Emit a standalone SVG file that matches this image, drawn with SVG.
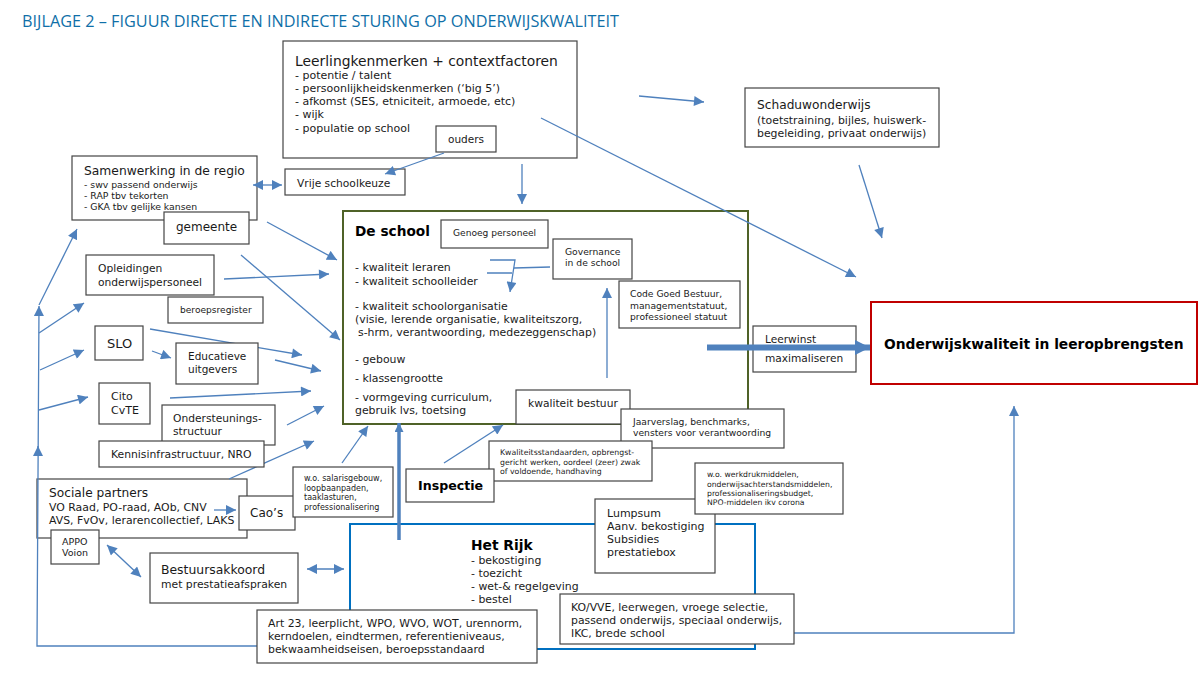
<svg xmlns="http://www.w3.org/2000/svg" width="1200" height="677" viewBox="0 0 1200 677">
<style>
text{font-family:"DejaVu Sans",Verdana,sans-serif;fill:#1a1a1a}
.b{fill:#fff;stroke:#444;stroke-width:1.2}
.c{fill:none;stroke:#4f81bd;stroke-width:1.3}
.bd{font-weight:bold;fill:#000}
</style>
<defs>
<marker id="a" viewBox="0 0 10 10" refX="10" refY="5" markerWidth="11" markerHeight="10" markerUnits="userSpaceOnUse" orient="auto-start-reverse"><path d="M0 0L10 5L0 10z" fill="#4f81bd"/></marker>
<marker id="t" viewBox="0 0 10 10" refX="10" refY="5" markerWidth="15" markerHeight="15" markerUnits="userSpaceOnUse" orient="auto"><path d="M0 0L10 5L0 10z" fill="#4f81bd"/></marker>
<marker id="v" viewBox="0 0 10 10" refX="10" refY="5" markerWidth="10" markerHeight="9" markerUnits="userSpaceOnUse" orient="auto"><path d="M0 0L10 5L0 10z" fill="#4f81bd"/></marker>
</defs>
<rect width="1200" height="677" fill="#fff"/>
<text x="22" y="27" textLength="597" lengthAdjust="spacingAndGlyphs" style="font-family:'Open Sans',sans-serif;font-size:16.300px;fill:#0f6fa8">BIJLAGE 2 – FIGUUR DIRECTE EN INDIRECTE STURING OP ONDERWIJSKWALITEIT</text>

<g id="school" font-size="10.900"><rect x="343" y="211" width="405" height="213" fill="#fff" stroke="#4f6228" stroke-width="2"/>
<text class="bd" font-size="13.700" x="355" y="236">De school</text>
<text x="355" y="271">- kwaliteit leraren</text>
<text x="355" y="285">- kwaliteit schoolleider</text>
<text x="355" y="310">- kwaliteit schoolorganisatie</text>
<text x="355" y="323">(visie, lerende organisatie, kwaliteitszorg,</text>
<text x="358" y="336">s-hrm, verantwoording, medezeggenschap)</text>
<text x="355" y="363">- gebouw</text>
<text x="355" y="382">- klassengrootte</text>
<text x="355" y="401">- vormgeving curriculum,</text>
<text x="355" y="414">gebruik lvs, toetsing</text></g>
<g id="rijk" font-size="10.900"><rect x="350" y="524" width="405" height="125" fill="#fff" stroke="#0070c0" stroke-width="2"/>
<text class="bd" font-size="13.800" x="471" y="550">Het Rijk</text>
<text x="471" y="564">- bekostiging</text>
<text x="471" y="577">- toezicht</text>
<text x="471" y="590">- wet-&amp; regelgeving</text>
<text x="471" y="603">- bestel</text></g>
<g id="leerling" font-size="11"><rect class="b" x="283" y="41" width="294" height="117"/>
<text font-size="13.850" x="295" y="66">Leerlingkenmerken + contextfactoren</text>
<text x="295" y="79">- potentie / talent</text>
<text x="295" y="92">- persoonlijkheidskenmerken (‘big 5’)</text>
<text x="295" y="105">- afkomst (SES, etniciteit, armoede, etc)</text>
<text x="295" y="118">- wijk</text>
<text x="295" y="132">- populatie op school</text></g>
<g id="ouders"><rect class="b" x="436" y="126" width="60" height="26"/><text font-size="10.500" x="448" y="143">ouders</text></g>
<g id="vrije"><rect class="b" x="285" y="169" width="120" height="26"/><text font-size="10.700" x="297" y="187">Vrije schoolkeuze</text></g>
<g id="samenwerking" font-size="9.300"><rect class="b" x="72" y="156" width="185" height="64"/>
<text font-size="12.300" x="84" y="175">Samenwerking in de regio</text>
<text x="84" y="188">- swv passend onderwijs</text>
<text x="84" y="199">- RAP tbv tekorten</text>
<text x="84" y="210">- GKA tbv gelijke kansen</text></g>
<g id="sociale" font-size="10.900"><rect class="b" x="37" y="479" width="210" height="59"/>
<text font-size="12.200" x="49" y="497">Sociale partners</text>
<text x="49" y="511">VO Raad, PO-raad, AOb, CNV</text>
<text x="49" y="524">AVS, FvOv, lerarencollectief, LAKS</text></g>

<g id="connectors">
<path class="c" d="M639 96L704 102" marker-end="url(#a)"/>
<path class="c" d="M859 165L882 238" marker-end="url(#a)"/>
<path class="c" d="M541 118L856 277" marker-end="url(#a)"/>
<path class="c" d="M522 164V204" marker-end="url(#a)"/>
<path class="c" d="M444 153L385 174" marker-end="url(#a)"/>
<path class="c" d="M253 185H282" marker-start="url(#a)" marker-end="url(#a)"/>
<path class="c" d="M267 222L337 260" marker-end="url(#a)"/>
<path class="c" d="M241 255L340 340" marker-end="url(#a)"/>
<path class="c" d="M224 279L329 274" marker-end="url(#a)"/>
<path class="c" d="M150 329L302 355" marker-end="url(#a)"/>
<path class="c" d="M152 351L171 358" marker-end="url(#a)"/>
<path class="c" d="M275 360L321 371" marker-end="url(#a)"/>
<path class="c" d="M170 398L311 391" marker-end="url(#a)"/>
<path class="c" d="M287 425L324 406" marker-end="url(#a)"/>
<path class="c" d="M229 479L314 441" marker-end="url(#a)"/>
<path class="c" d="M342 463L368 426" marker-end="url(#a)"/>
<path class="c" d="M214 510H236" marker-end="url(#a)"/>
<path class="c" d="M107 545L141 577" marker-start="url(#a)" marker-end="url(#a)"/>
<path class="c" d="M307 569H344" marker-start="url(#a)" marker-end="url(#a)"/>
<path class="c" d="M444 463L503 425" marker-end="url(#a)"/>
<path class="c" d="M607 378V288" marker-end="url(#a)"/>
<path class="c" d="M490 260H515L510 292" marker-end="url(#a)"/>
<path class="c" d="M487 273H512M514 268L550 267"/>
<path class="c" d="M258 646H37L39 306" marker-end="url(#a)"/>
<path class="c" d="M38 455V446" marker-end="url(#a)"/>
<path class="c" d="M39 305L77 229" marker-end="url(#a)"/>
<path class="c" d="M39 333L84 303" marker-end="url(#a)"/>
<path class="c" d="M40 370L84 350" marker-end="url(#a)"/>
<path class="c" d="M39 410L88 397" marker-end="url(#a)"/>
<path class="c" d="M794 633H1014V406" marker-end="url(#a)"/>
</g>

<g id="schaduw" font-size="10.900"><rect class="b" x="745" y="88" width="194" height="59"/>
<text font-size="12.200" x="757" y="109">Schaduwonderwijs</text>
<text x="757" y="124">(toetstraining, bijles, huiswerk-</text>
<text x="757" y="137">begeleiding, privaat onderwijs)</text></g>
<g id="gemeente"><rect class="b" x="164" y="212" width="85" height="32"/><text font-size="12" x="176" y="231">gemeente</text></g>
<g id="opleidingen" font-size="10.700"><rect class="b" x="86" y="255" width="128" height="40"/>
<text x="98" y="272">Opleidingen</text><text x="98" y="286">onderwijspersoneel</text></g>
<g id="beroepsregister"><rect class="b" x="168" y="297" width="95" height="26"/><text font-size="9.100" x="180" y="313">beroepsregister</text></g>
<g id="slo"><rect class="b" x="95" y="326" width="48" height="34"/><text font-size="13" x="107" y="348">SLO</text></g>
<g id="educatieve" font-size="10.500"><rect class="b" x="176" y="343" width="82" height="41"/>
<text x="188" y="360">Educatieve</text><text x="188" y="373">uitgevers</text></g>
<g id="cito" font-size="11"><rect class="b" x="99" y="383" width="51" height="41"/>
<text x="111" y="400">Cito</text><text x="111" y="414">CvTE</text></g>
<g id="ondersteuning" font-size="10.700"><rect class="b" x="162" y="405" width="113" height="40"/>
<text x="173" y="422">Ondersteunings-</text><text x="173" y="435">structuur</text></g>
<g id="kennis"><rect class="b" x="99" y="441" width="165" height="26"/><text font-size="10.800" x="111" y="458">Kennisinfrastructuur, NRO</text></g>
<g id="appo" font-size="9.500"><rect class="b" x="51" y="530" width="48" height="34"/>
<text x="62" y="545">APPO</text><text x="62" y="556">Voion</text></g>
<g id="caos"><rect class="b" x="239" y="496" width="56" height="34"/><text font-size="12" x="250" y="517">Cao’s</text></g>
<g id="wo1" font-size="8"><rect class="b" x="293" y="467" width="100" height="50"/>
<text x="304" y="481">w.o. salarisgebouw,</text><text x="304" y="491">loopbaanpaden,</text>
<text x="304" y="500">taaklasturen,</text><text x="304" y="510">professionalisering</text></g>
<g id="bestuursakkoord"><rect class="b" x="150" y="553" width="148" height="50"/>
<text font-size="12.400" x="161" y="574">Bestuursakkoord</text><text font-size="10.800" x="161" y="588">met prestatieafspraken</text></g>
<g id="art23" font-size="10.900"><rect class="b" x="257" y="610" width="280" height="53"/>
<text x="268" y="627">Art 23, leerplicht, WPO, WVO, WOT, urennorm,</text>
<text x="268" y="640">kerndoelen, eindtermen, referentieniveaus,</text>
<text x="268" y="653">bekwaamheidseisen, beroepsstandaard</text></g>
<g id="genoeg"><rect class="b" x="441" y="220" width="107" height="28"/><text font-size="9.100" x="453" y="236">Genoeg personeel</text></g>
<g id="governance" font-size="9.200"><rect class="b" x="553" y="239" width="79" height="40"/>
<text x="565" y="255">Governance</text><text x="565" y="266">in de school</text></g>
<g id="code" font-size="9.200"><rect class="b" x="619" y="281" width="121" height="47"/>
<text x="630" y="297">Code Goed Bestuur,</text><text x="630" y="309">managementstatuut,</text><text x="630" y="320">professioneel statuut</text></g>
<g id="leerwinst" font-size="10.600"><rect class="b" x="753" y="326" width="103" height="46"/>
<text x="765" y="343">Leerwinst</text><text x="765" y="362">maximaliseren</text></g>
<g id="bestuur"><rect class="b" x="516" y="390" width="114" height="34"/><text font-size="10.700" x="528" y="407">kwaliteit bestuur</text></g>
<g id="jaarverslag" font-size="9.200"><rect class="b" x="621" y="409" width="163" height="39"/>
<text x="633" y="425">Jaarverslag, benchmarks,</text><text x="633" y="436">vensters voor verantwoording</text></g>
<g id="standaarden" font-size="7.800"><rect class="b" x="489" y="441" width="163" height="40"/>
<text x="500" y="455">Kwaliteitsstandaarden, opbrengst-</text><text x="500" y="465">gericht werken, oordeel (zeer) zwak</text><text x="500" y="474">of voldoende, handhaving</text></g>
<g id="inspectie"><rect class="b" x="406" y="469" width="88" height="33"/><text class="bd" font-size="12.600" x="418" y="490">Inspectie</text></g>
<g id="lumpsum" font-size="11"><rect class="b" x="595" y="499" width="120" height="74"/>
<text x="607" y="517">Lumpsum</text><text x="607" y="530">Aanv. bekostiging</text><text x="607" y="543">Subsidies</text><text x="607" y="556">prestatiebox</text></g>
<g id="wo2" font-size="7.700"><rect class="b" x="695" y="463" width="148" height="51"/>
<text x="707" y="477">w.o. werkdrukmiddelen,</text><text x="707" y="487">onderwijsachterstandsmiddelen,</text><text x="707" y="496">professionaliseringsbudget,</text><text x="707" y="505">NPO-middelen ikv corona</text></g>
<g id="ko" font-size="10.850"><rect class="b" x="560" y="594" width="234" height="50"/>
<text x="571" y="611">KO/VVE, leerwegen, vroege selectie,</text><text x="571" y="624">passend onderwijs, speciaal onderwijs,</text><text x="571" y="637">IKC, brede school</text></g>
<g id="kwaliteit"><rect x="871" y="302" width="326" height="82" fill="#fff" stroke="#c00000" stroke-width="2"/>
<text class="bd" font-size="13.800" x="884" y="349">Onderwijskwaliteit in leeropbrengsten</text></g>
<g id="dikke-pijlen">
<path d="M707 347.500H870" fill="none" stroke="#4f81bd" stroke-width="6" marker-end="url(#t)"/>
<path d="M399 540V423" fill="none" stroke="#4f81bd" stroke-width="3.500" marker-end="url(#v)"/>
</g>
</svg>
